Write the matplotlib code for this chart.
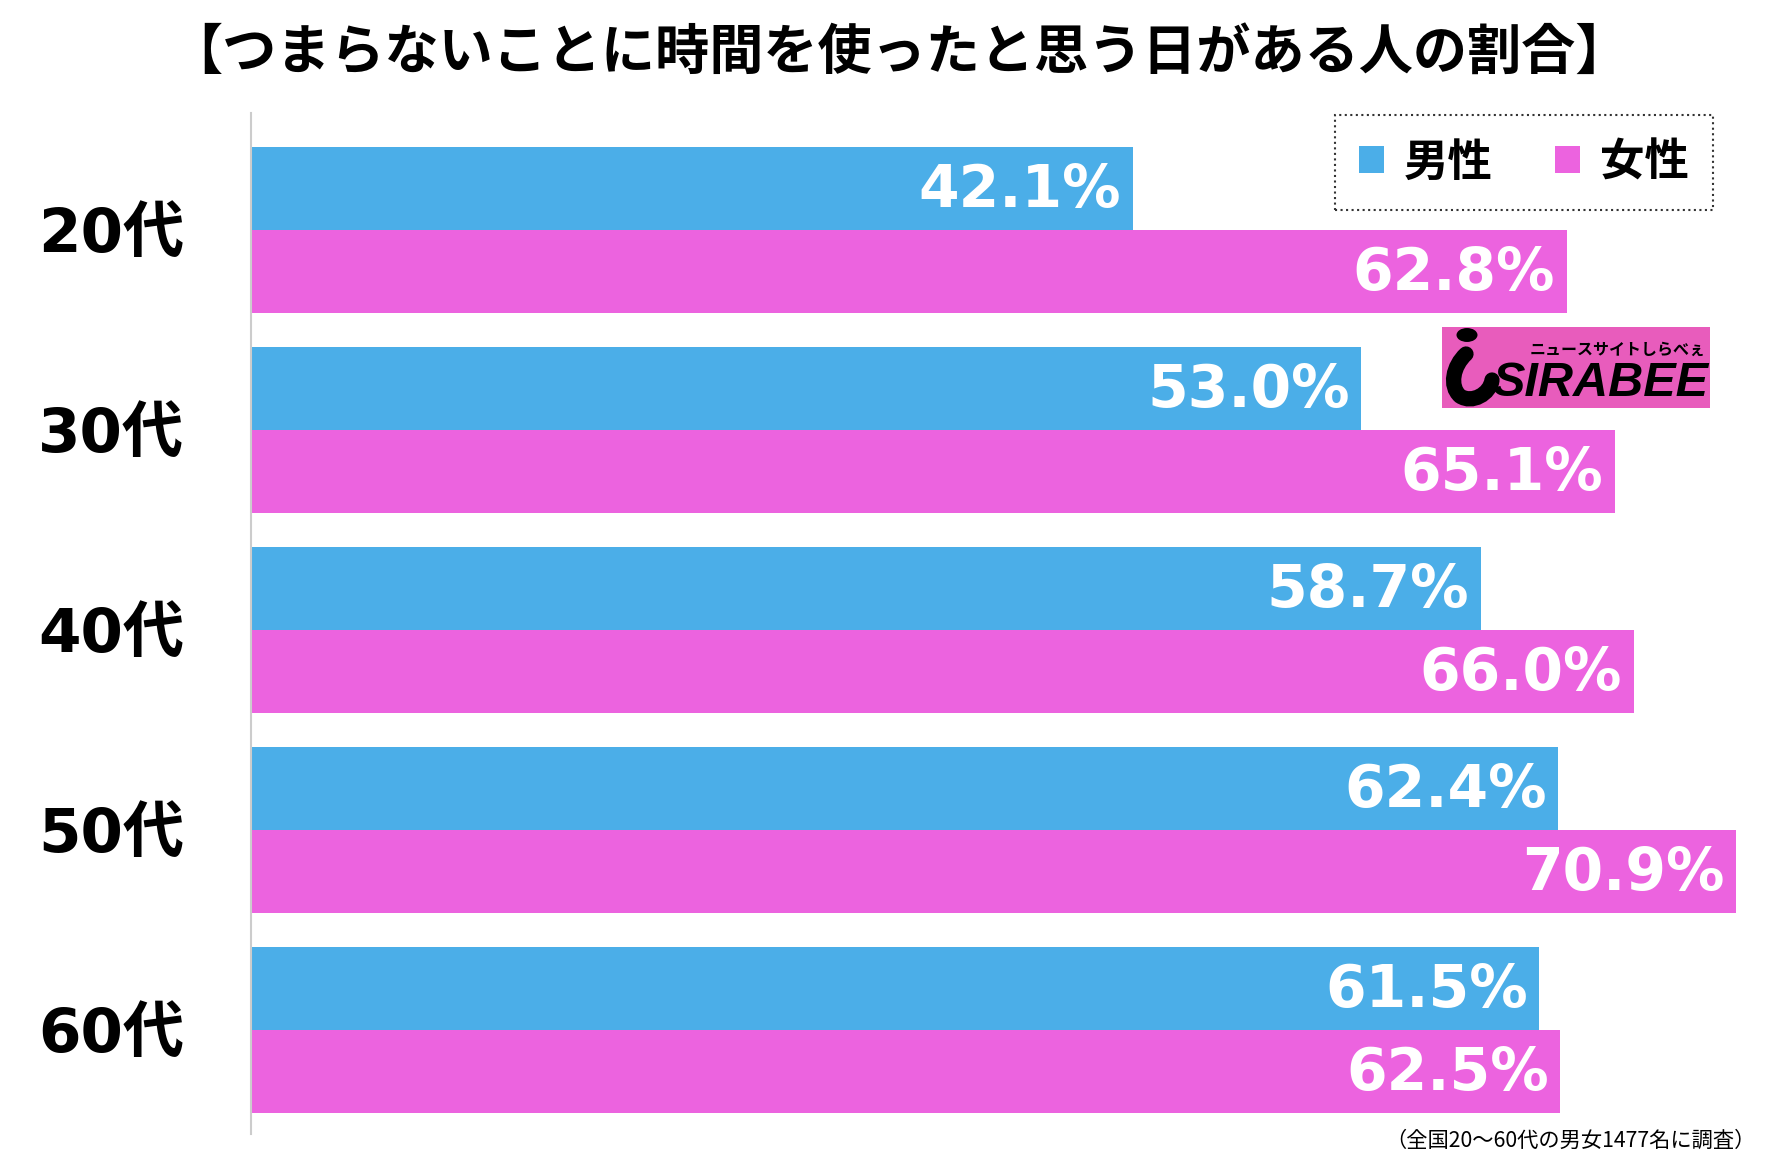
import matplotlib
matplotlib.use("Agg")
import matplotlib.pyplot as plt
from matplotlib.patches import Patch, Rectangle, Circle
from matplotlib.path import Path
from matplotlib.patches import PathPatch

categories = ["20代", "30代", "40代", "50代", "60代"]
male = [42.1, 53.0, 58.7, 62.4, 61.5]
female = [62.8, 65.1, 66.0, 70.9, 62.5]
series_names = ["男性", "女性"]
title = "【つまらないことに時間を使ったと思う日がある人の割合】"
note = "（全国20〜60代の男女1477名に調査）"

BLUE = "#4BAEE8"
PINK = "#EC63DF"
CJK = ["Noto Sans CJK JP", "DejaVu Sans"]
NUM = ["DejaVu Sans", "Noto Sans CJK JP"]

W, H = 1769, 1173
fig = plt.figure(figsize=(W / 100, H / 100), dpi=100)
ax = fig.add_axes([251 / W, 1 - 1134 / H, 1 - 251 / W, (1134 - 113) / H])

y = list(range(len(categories)))
bh = 0.415
ym = [v - bh / 2 for v in y]
yf = [v + bh / 2 for v in y]
ax.barh(ym, male, height=bh, color=BLUE, linewidth=0)
ax.barh(yf, female, height=bh, color=PINK, linewidth=0)

for yy, v in zip(ym, male):
    ax.text(v - 0.55, yy + 0.01, f"{v:.1f}%", ha="right", va="center", color="white",
            fontsize=42, fontweight="bold", family=NUM)
for yy, v in zip(yf, female):
    ax.text(v - 0.55, yy + 0.01, f"{v:.1f}%", ha="right", va="center", color="white",
            fontsize=42, fontweight="bold", family=NUM)

ax.set_xlim(0, (W - 251) / 20.95)
ax.set_ylim(4.52, -0.585)
ax.set_yticks(y)
ax.set_yticklabels(categories)
for lab in ax.get_yticklabels():
    lab.set_family(NUM)
    lab.set_fontsize(44)
    lab.set_fontweight("bold")
ax.tick_params(axis="y", length=0, pad=48)
ax.set_xticks([])
for s in ["top", "right", "bottom"]:
    ax.spines[s].set_visible(False)
ax.spines["left"].set_color("#cccccc")
ax.spines["left"].set_linewidth(1.5)

fig.text(899 / W, 1 - 53 / H, title, ha="center", va="center", fontsize=39,
         fontweight="bold", family=CJK)

handles = [Patch(facecolor=BLUE, edgecolor="none"), Patch(facecolor=PINK, edgecolor="none")]
leg = fig.legend(handles, series_names, loc="upper right",
                 bbox_to_anchor=(1713 / W, 1 - 115 / H), ncol=2, borderaxespad=0,
                 prop={"family": CJK, "size": 32, "weight": "bold"},
                 handlelength=0.55, handleheight=0.55, handletextpad=0.45,
                 columnspacing=1.4, borderpad=0.55, fancybox=False, frameon=True)
fr = leg.get_frame()
fr.set_linestyle(":")
fr.set_edgecolor("black")
fr.set_linewidth(1.5)

# logo
lx0, ly0, lx1, ly1 = 1442, 327, 1710, 408
fig.patches.append(Rectangle((lx0 / W, 1 - ly1 / H), (lx1 - lx0) / W, (ly1 - ly0) / H,
                             transform=fig.transFigure, facecolor="#E85CBC", edgecolor="none"))
def fp(x, yy):
    return (x / W, 1 - yy / H)
fig.patches.append(Circle(fp(1467, 335), 10.5 / W, transform=fig.transFigure,
                          facecolor="black", edgecolor="none"))
verts = [fp(1466, 354), fp(1453, 366), fp(1449, 386), fp(1460, 396),
         fp(1472, 404), fp(1490, 394), fp(1492, 380)]
codes = [Path.MOVETO, Path.CURVE4, Path.CURVE4, Path.CURVE4, Path.CURVE4, Path.CURVE4, Path.CURVE4]
fig.patches.append(PathPatch(Path(verts, codes), transform=fig.transFigure, facecolor="none",
                             edgecolor="black", linewidth=11, capstyle="round"))
fig.text(1708 / W, 1 - 383 / H, "SIRABEE", ha="right", va="center", fontsize=35,
         fontweight="bold", style="italic", color="black", family="Liberation Sans")
fig.text(1706 / W, 1 - 350 / H, "ニュースサイトしらべぇ", ha="right", va="center",
         fontsize=11.5, fontweight="bold", color="black", family=CJK)

fig.text(1756 / W, 1 - 1141 / H, note, ha="right", va="center", fontsize=15.3, family=CJK)

fig.savefig("out.png", dpi=100, facecolor="white")
